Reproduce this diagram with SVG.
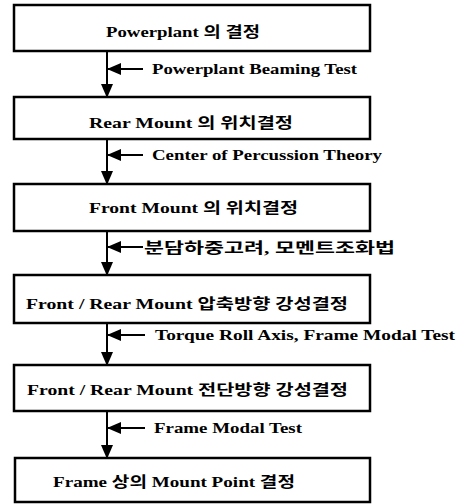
<svg xmlns="http://www.w3.org/2000/svg" width="466" height="504" viewBox="0 0 466 504" font-family="'Liberation Serif','Noto Sans CJK KR',serif" font-weight="bold" font-size="15">
<style>
.box{fill:#fff;stroke:#000;stroke-width:2.5}
.t{fill:#000}
.ln{stroke:#000;stroke-width:2;fill:none}
</style>
<defs>
<marker id="ah" markerWidth="14" markerHeight="12" refX="13" refY="6" orient="auto" markerUnits="userSpaceOnUse">
<path d="M0,0 L14,6 L0,12 Z" fill="#000"/>
</marker>
</defs>
<rect width="466" height="504" fill="#fff"/>
<g id="n1"><rect class="box" x="14" y="5" width="356" height="46"/><text class="t" x="106" y="37" textLength="154" lengthAdjust="spacingAndGlyphs">Powerplant 의 결정</text></g>
<g id="n2"><rect class="box" x="14" y="97" width="356" height="42"/><text class="t" x="89" y="128" textLength="204" lengthAdjust="spacingAndGlyphs">Rear Mount 의 위치결정</text></g>
<g id="n3"><rect class="box" x="14" y="184" width="356" height="47"/><text class="t" x="89" y="213" textLength="209" lengthAdjust="spacingAndGlyphs">Front Mount 의 위치결정</text></g>
<g id="n4"><rect class="box" x="14" y="275" width="356" height="48"/><text class="t" x="26" y="309" textLength="322" lengthAdjust="spacingAndGlyphs">Front / Rear Mount 압축방향 강성결정</text></g>
<g id="n5"><rect class="box" x="14" y="365" width="356" height="46"/><text class="t" x="27" y="395" textLength="321" lengthAdjust="spacingAndGlyphs">Front / Rear Mount 전단방향 강성결정</text></g>
<g id="n6"><rect class="box" x="15" y="458" width="355" height="44"/><text class="t" x="53" y="487" textLength="242" lengthAdjust="spacingAndGlyphs">Frame 상의 Mount Point 결정</text></g>
<g id="connectors">
<line class="ln" x1="107" y1="51" x2="107" y2="97" marker-end="url(#ah)"/>
<line class="ln" x1="107" y1="139" x2="107" y2="184" marker-end="url(#ah)"/>
<line class="ln" x1="107" y1="231" x2="107" y2="275" marker-end="url(#ah)"/>
<line class="ln" x1="107" y1="323" x2="107" y2="365" marker-end="url(#ah)"/>
<line class="ln" x1="107" y1="411" x2="107" y2="458" marker-end="url(#ah)"/>
<line class="ln" x1="143" y1="69" x2="108" y2="69" marker-end="url(#ah)"/>
<line class="ln" x1="143" y1="155" x2="108" y2="155" marker-end="url(#ah)"/>
<line class="ln" x1="143" y1="247" x2="108" y2="247" marker-end="url(#ah)"/>
<line class="ln" x1="145" y1="335" x2="108" y2="335" marker-end="url(#ah)"/>
<line class="ln" x1="145" y1="428" x2="108" y2="428" marker-end="url(#ah)"/>
<text class="t" x="152" y="74" textLength="205" lengthAdjust="spacingAndGlyphs">Powerplant Beaming Test</text>
<text class="t" x="152" y="160" textLength="230" lengthAdjust="spacingAndGlyphs">Center of Percussion Theory</text>
<text class="t" x="144" y="253" textLength="251" lengthAdjust="spacingAndGlyphs">분담하중고려, 모멘트조화법</text>
<text class="t" x="155" y="340" textLength="300" lengthAdjust="spacingAndGlyphs">Torque Roll Axis, Frame Modal Test</text>
<text class="t" x="154" y="433" textLength="148" lengthAdjust="spacingAndGlyphs">Frame Modal Test</text>
</g>
</svg>
